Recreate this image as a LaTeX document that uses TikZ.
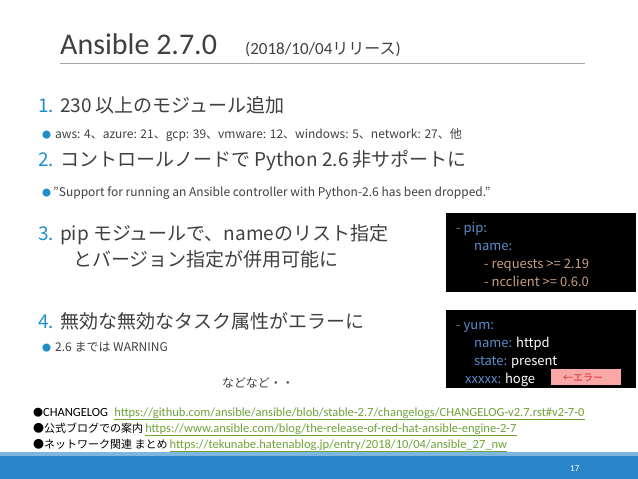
\documentclass[tikz,border=0pt]{standalone}
\usepackage{fontspec}
\setmainfont{Noto Sans CJK JP}
\newfontfamily\carl{Carlito}
\newfontfamily\jp{Noto Sans CJK JP}
\definecolor{numblue}{HTML}{1F8FCB}
\definecolor{txt}{HTML}{404040}
\definecolor{lnk}{HTML}{6FA33A}
\definecolor{cblue}{HTML}{5B8FC8}
\definecolor{corange}{HTML}{C9A082}
\definecolor{band}{HTML}{2A86C8}
\definecolor{errpink}{HTML}{F9A7A7}
\definecolor{errred}{HTML}{D03030}
\tikzset{
 every node/.style={anchor=base west,inner sep=0pt,text=txt},
 big/.style={font=\fontsize{19}{22}\selectfont},
 small/.style={font=\fontsize{12}{14}\selectfont},
 code/.style={font=\fontsize{13}{15}\selectfont},
 link/.style={font=\carl\fontsize{12.5}{14}\selectfont},
 codebox/.style={fill=black,draw=none}
}
\newcommand{\lk}[1]{\textcolor{lnk}{\underline{#1}}}
\begin{document}
\begin{tikzpicture}[x=1pt,y=-1pt]
\useasboundingbox (0,0) rectangle (638,479);
\fill[white] (0,0) rectangle (638,479);
\node (title) at (60,54) {\carl\fontsize{30}{32}\selectfont Ansible 2.7.0};
\node (date) at (245,54) {\carl\fontsize{17}{18}\selectfont (2018/10/04{\jp\fontsize{16}{18}\selectfont リリース})};
\draw[gray!70,line width=0.6pt] (60,63) -- (585,63);
\node[big] (n1) at (38,112) {\textcolor{numblue}{1.}\hspace{6pt}230 以上のモジュール追加};
\node[small] (b1) at (42,138) {\textcolor{numblue}{\fontsize{9}{9}\selectfont ●}\hspace{4pt}aws: 4、azure: 21、gcp: 39、vmware: 12、windows: 5、network: 27、他};
\node[big] (n2) at (38,166) {\textcolor{numblue}{2.}\hspace{6pt}コントロールノードで Python 2.6 非サポートに};
\node[small] (b2) at (42,196) {\textcolor{numblue}{\fontsize{9}{9}\selectfont ●}\,"Support for running an Ansible controller with Python-2.6 has been dropped."};
\node[big] (n3) at (38,240) {\textcolor{numblue}{3.}\hspace{6pt}pip モジュールで、nameのリスト指定};
\node[big] (n3b) at (73,266) {とバージョン指定が併用可能に};
\node[big] (n4) at (38,328) {\textcolor{numblue}{4.}\hspace{6pt}無効な無効なタスク属性がエラーに};
\node[small] (b4) at (42,351) {\textcolor{numblue}{\fontsize{9}{9}\selectfont ●}\hspace{4pt}2.6 までは WARNING};
\fill[codebox] (446,213) rectangle (636,292);
\node[code] (c1) at (456,232) {\textcolor{cblue}{- pip:}};
\node[code] (c2) at (474,250) {\textcolor{cblue}{name:}};
\node[code] (c3) at (484,268) {\textcolor{corange}{- requests >= 2.19}};
\node[code] (c4) at (484,286) {\textcolor{corange}{- ncclient >= 0.6.0}};
\fill[codebox] (446,310) rectangle (636,388);
\node[code] (d1) at (456,329) {\textcolor{cblue}{- yum:}};
\node[code] (d2) at (474,347) {\textcolor{cblue}{name:} \textcolor{white}{httpd}};
\node[code] (d3) at (474,365) {\textcolor{cblue}{state:} \textcolor{white}{present}};
\node[code] (d4) at (465,383) {\textcolor{cblue}{xxxxx:} \textcolor{white}{hoge}};
\fill[errpink] (551,369) rectangle (621,385);
\node[font=\fontsize{10}{12}\selectfont,text=errred] (err) at (563,381) {←エラー};
\node[font=\fontsize{12}{14}\selectfont] (etc) at (222,387) {などなど・・};
\node[link] (l1) at (33,416) {\textcolor{black}{{\jp\fontsize{10}{12}\selectfont ●}CHANGELOG}\enspace\lk{https://github.com/ansible/ansible/blob/stable-2.7/changelogs/CHANGELOG-v2.7.rst\#v2-7-0}};
\node[link] (l2) at (33,432) {\textcolor{black}{\jp\fontsize{11}{12}\selectfont ●公式ブログでの案内}\,\lk{https://www.ansible.com/blog/the-release-of-red-hat-ansible-engine-2-7}};
\node[link] (l3) at (33,448) {\textcolor{black}{\jp\fontsize{11}{12}\selectfont ●ネットワーク関連 まとめ}\,\lk{https://tekunabe.hatenablog.jp/entry/2018/10/04/ansible\_27\_nw}};
\fill[band!60] (0,452) rectangle (638,456);
\fill[band] (0,456) rectangle (638,479);
\node[font=\carl\fontsize{9}{10}\selectfont,text=white] (pg) at (570,471) {17};
\end{tikzpicture}
\end{document}
